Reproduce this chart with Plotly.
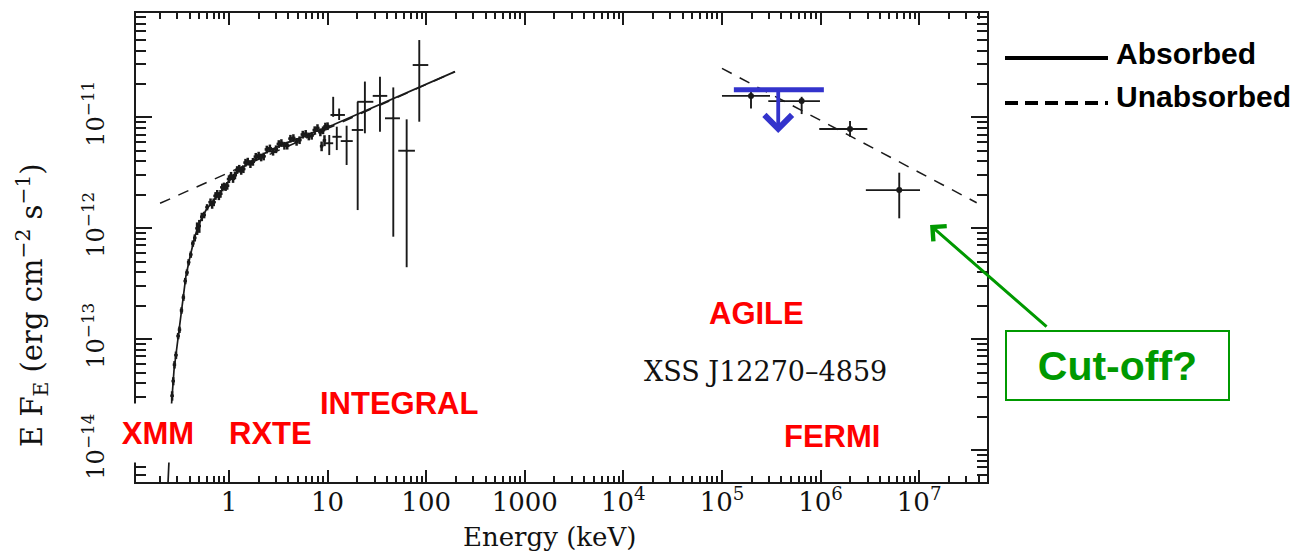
import math
import plotly.graph_objects as go

# ---------------- model curves ----------------
# absorbed power law (solid), X-ray band
model_abs_e = [0.241, 0.252, 0.262, 0.277, 0.297, 0.319, 0.341, 0.366, 0.402, 0.452,
               0.508, 0.585, 0.689, 0.811, 0.977, 1.205, 1.63, 2.43, 3.53, 5.25,
               7.80, 11.3, 196]
model_abs_f = [5.18e-15, 1.24e-14, 2.67e-14, 5.29e-14, 8.88e-14, 1.35e-13, 2.26e-13,
               3.72e-13, 5.51e-13, 8.53e-13, 1.14e-12, 1.46e-12, 1.76e-12, 2.08e-12,
               2.61e-12, 3.21e-12, 3.95e-12, 4.87e-12, 5.74e-12, 6.52e-12, 7.53e-12,
               8.53e-12, 2.58e-11]

# unabsorbed power law (dashed), X-ray band and gamma-ray band
model_unabs_x_e = [0.2, 196]
model_unabs_x_f = [1.68e-12, 2.58e-11]
model_unabs_g_e = [1.0e5, 3.83e7]
model_unabs_g_f = [2.76e-11, 1.70e-12]

# ---------------- XMM spectrum ----------------
xmm_e = [0.265, 0.272, 0.280, 0.290, 0.305, 0.315, 0.330, 0.345, 0.360, 0.375,
         0.390, 0.410, 0.430, 0.450, 0.475, 0.500, 0.530, 0.560, 0.600]
xmm_f = [3.1e-14, 4.2e-14, 5.9e-14, 7.2e-14, 1.07e-13, 1.22e-13, 1.82e-13, 2.38e-13,
         3.35e-13, 4.0e-13, 4.95e-13, 5.8e-13, 7.3e-13, 8.2e-13, 1.0e-12, 1.05e-12,
         1.27e-12, 1.32e-12, 1.55e-12]
xmm_df = [3.0e-15, 3.5e-15, 4.5e-15, 5.5e-15, 7.0e-15, 8.0e-15, 1.2e-14, 1.6e-14,
          2.2e-14, 2.6e-14, 3.2e-14, 3.8e-14, 4.8e-14, 6.0e-14, 1.3e-13, 1.4e-13,
          1.1e-13, 9e-14, 1.0e-13]

# ---------------- XMM / RXTE spectrum, 0.65-10 keV ----------------
rxte_e = [0.65, 0.675, 0.70, 0.73, 0.76, 0.79, 0.82, 0.855, 0.89, 0.925,
          0.96, 1.0, 1.05, 1.1, 1.15, 1.21, 1.27, 1.33, 1.40, 1.47,
          1.55, 1.65, 1.75, 1.87, 2.0, 2.12, 2.25, 2.42, 2.6, 2.8,
          3.0, 3.2, 3.4, 3.65, 3.9, 4.2, 4.5, 4.85, 5.2, 5.6,
          6.0, 6.45, 6.9, 7.4, 7.9, 8.45, 9.0, 9.5, 10.0]
rxte_f = [1.72e-12, 1.63e-12, 1.72e-12, 1.96e-12, 2.05e-12, 1.95e-12, 2.05e-12, 2.34e-12, 2.39e-12, 2.36e-12,
          2.42e-12, 2.78e-12, 2.98e-12, 2.79e-12, 3.01e-12, 3.36e-12, 3.45e-12, 3.30e-12, 3.42e-12, 3.91e-12,
          4.00e-12, 3.80e-12, 3.98e-12, 4.42e-12, 4.53e-12, 4.36e-12, 4.45e-12, 5.14e-12, 5.26e-12, 4.91e-12,
          5.17e-12, 5.76e-12, 5.88e-12, 5.56e-12, 5.57e-12, 6.43e-12, 6.52e-12, 6.03e-12, 6.24e-12, 7.00e-12,
          7.11e-12, 6.74e-12, 6.84e-12, 7.68e-12, 8.02e-12, 7.34e-12, 7.66e-12, 8.28e-12, 8.34e-12]
rxte_low_e = [8.7, 9.3]
rxte_low_f = [5.5e-12, 6.2e-12]
rxte_low_df = [0.55e-12, 0.7e-12]

# ---------------- INTEGRAL ----------------
integral_e = [11.4, 13.1, 10.4, 12.4, 15.6, 20.2, 23.9, 34.0, 46.4, 63.4, 85.1]
integral_e_lo = [10.7, 11.4, 9.4, 11.2, 13.6, 17.6, 20.0, 28.7, 38.2, 52.1, 73.0]
integral_e_hi = [12.8, 15.0, 11.4, 13.9, 18.0, 23.0, 29.1, 40.3, 54.2, 76.9, 105]
integral_f = [1.05e-11, 1.05e-11, 5.84e-12, 6.68e-12, 6.11e-12, 7.69e-12, 1.38e-11,
              1.56e-11, 9.80e-12, 5.00e-12, 2.96e-11]
integral_f_lo = [1.01e-11, 9.46e-12, 4.57e-12, 5.07e-12, 3.72e-12, 1.46e-12, 7.18e-12,
                 7.41e-12, 8.40e-13, 4.46e-13, 9.13e-12]
integral_f_hi = [1.53e-11, 1.20e-11, 6.93e-12, 8.23e-12, 8.40e-12, 1.38e-11, 2.10e-11,
                 2.32e-11, 1.86e-11, 9.59e-12, 4.97e-11]

# ---------------- Fermi-LAT ----------------
fermi_e = [1.97e5, 6.43e5, 1.99e6, 6.28e6]
fermi_e_lo = [1.0e5, 2.95e5, 9.7e5, 2.88e6]
fermi_e_hi = [3.07e5, 9.86e5, 2.98e6, 1.02e7]
fermi_f = [1.56e-11, 1.40e-11, 7.85e-12, 2.21e-12]
fermi_f_lo = [1.20e-11, 1.07e-11, 6.68e-12, 1.23e-12]
fermi_f_hi = [1.80e-11, 1.53e-11, 9.26e-12, 3.17e-12]

# ---------------- AGILE upper limit ----------------
agile_e = 3.72e5
agile_e_lo = 1.32e5
agile_e_hi = 1.08e6
agile_ul = 1.77e-11

# axis ticks
x_tick_vals = [1, 10, 100, 1000, 1e4, 1e5, 1e6, 1e7]
x_tick_text = ["1", "10", "100", "1000", "10<sup>4</sup>", "10<sup>5</sup>",
               "10<sup>6</sup>", "10<sup>7</sup>"]
y_tick_vals = [1e-14, 1e-13, 1e-12, 1e-11]
y_tick_text = ["10<sup>\u221214</sup>", "10<sup>\u221213</sup>",
               "10<sup>\u221212</sup>", "10<sup>\u221211</sup>"]

# ---------------- styling ----------------
INK = "#1a1a1a"
RED = "#ff0000"
BLUE = "#3333cc"
GREEN = "#009900"
SERIF = "DejaVu Serif"
SANS = "Liberation Sans"

# plot-area geometry in pixels (figure is 1302 x 552)
FIG_W, FIG_H = 1302, 552
L, T, R, B = 136, 13, 987, 482
W, H = R - L, B - T


def px(x):
    return (x - L) / W


def py(y):
    return (B - y) / H


def asym(v, lo, hi):
    return [h - c for c, h in zip(v, hi)], [c - l for c, l in zip(v, lo)]


fig = go.Figure()

# unabsorbed model (dashed) under everything
for ex, fx in ((model_unabs_x_e, model_unabs_x_f), (model_unabs_g_e, model_unabs_g_f)):
    fig.add_trace(go.Scatter(x=ex, y=fx, mode="lines", name="Unabsorbed",
                             line=dict(color=INK, width=1.5, dash="11px,9px"),
                             showlegend=False, hoverinfo="skip"))

# absorbed model (solid)
fig.add_trace(go.Scatter(x=model_abs_e, y=model_abs_f, mode="lines", name="Absorbed",
                         line=dict(color=INK, width=1.7), showlegend=False))

err_style = dict(color=INK, thickness=2.5, width=0)

fig.add_trace(go.Scatter(
    x=xmm_e, y=xmm_f, mode="markers", name="XMM",
    marker=dict(size=3, color=INK),
    error_y=dict(type="data", array=xmm_df, **err_style),
    error_x=dict(type="percent", value=4, **err_style),
    showlegend=False))

fig.add_trace(go.Scatter(
    x=rxte_e, y=rxte_f, mode="markers", name="RXTE",
    marker=dict(size=3, color=INK),
    error_y=dict(type="percent", value=8, **err_style),
    error_x=dict(type="percent", value=5, **err_style),
    showlegend=False))

fig.add_trace(go.Scatter(
    x=rxte_low_e, y=rxte_low_f, mode="markers", name="RXTE",
    marker=dict(size=3, color=INK),
    error_y=dict(type="data", array=rxte_low_df, **err_style),
    error_x=dict(type="percent", value=4, **err_style),
    showlegend=False))

ix_p, ix_m = asym(integral_e, integral_e_lo, integral_e_hi)
iy_p, iy_m = asym(integral_f, integral_f_lo, integral_f_hi)
fig.add_trace(go.Scatter(
    x=integral_e, y=integral_f, mode="markers", name="INTEGRAL",
    marker=dict(size=2, color=INK),
    error_x=dict(type="data", symmetric=False, array=ix_p, arrayminus=ix_m,
                 color=INK, thickness=1.9, width=0),
    error_y=dict(type="data", symmetric=False, array=iy_p, arrayminus=iy_m,
                 color=INK, thickness=1.9, width=0),
    showlegend=False))

fx_p, fx_m = asym(fermi_e, fermi_e_lo, fermi_e_hi)
fy_p, fy_m = asym(fermi_f, fermi_f_lo, fermi_f_hi)
fig.add_trace(go.Scatter(
    x=fermi_e, y=fermi_f, mode="markers", name="FERMI",
    marker=dict(size=6, color=INK),
    error_x=dict(type="data", symmetric=False, array=fx_p, arrayminus=fx_m,
                 color=INK, thickness=1.9, width=0),
    error_y=dict(type="data", symmetric=False, array=fy_p, arrayminus=fy_m,
                 color=INK, thickness=1.9, width=0),
    showlegend=False))

# AGILE upper limit bar
fig.add_trace(go.Scatter(x=[agile_e_lo, agile_e_hi], y=[agile_ul, agile_ul],
                         mode="lines", name="AGILE",
                         line=dict(color=BLUE, width=5), showlegend=False))

annotations = []

# AGILE upper-limit arrow (length in decades is purely decorative)
ARROW_DEC = 0.39
annotations.append(dict(
    x=math.log10(agile_e), y=math.log10(agile_ul) - ARROW_DEC,
    ax=math.log10(agile_e), ay=math.log10(agile_ul),
    xref="x", yref="y", axref="x", ayref="y", text="",
    showarrow=True, arrowhead=4, arrowsize=1.4, arrowwidth=3.8, arrowcolor=BLUE))


# text labels
def label(text, x, y, size=31, color=RED, family=SANS, bold=True, **kw):
    d = dict(text=f"<b>{text}</b>" if bold else text, x=px(x), y=py(y),
             xref="paper", yref="paper", showarrow=False,
             xanchor="center", yanchor="middle",
             font=dict(family=family, size=size, color=color))
    d.update(kw)
    annotations.append(d)


label("XMM", 158, 433, bgcolor="white", borderpad=0, width=104, height=58)
label("RXTE", 270, 433)
label("INTEGRAL", 399, 403)
label("AGILE", 756, 313)
label("FERMI", 832, 436)
label("XSS J12270\u20134859", 765, 371, size=27, color="#111", family=SERIF, bold=False)

# axis titles
label("Energy (keV)", 549, 537, size=26, color="#111", family=SERIF, bold=False)
label("E F<sub>E</sub> (erg cm<sup>\u22122</sup> s<sup>\u22121</sup>)", 32, 305,
      size=29, color="#111", family=SERIF, bold=False, textangle=-90)

# legend
label("Absorbed", 1114, 53, size=30, color="black", xanchor="left")
label("Unabsorbed", 1114, 96, size=30, color="black", xanchor="left")
shapes = [
    dict(type="line", xref="paper", yref="paper", x0=px(1005), x1=px(1108),
         y0=py(58), y1=py(58), line=dict(color="black", width=4)),
    dict(type="line", xref="paper", yref="paper", x0=px(1005), x1=px(1108),
         y0=py(103), y1=py(103), line=dict(color="black", width=4, dash="13px,7px")),
]

# cut-off call-out
label("Cut-off?", 1117, 365, size=41, color=GREEN,
      bordercolor=GREEN, borderwidth=2, borderpad=0, width=221, height=67)
annotations.append(dict(
    x=math.log10(1.29e7), y=math.log10(1.07e-12), xref="x", yref="y",
    ax=118, ay=103, text="", showarrow=True, arrowhead=4, arrowsize=1.3,
    arrowwidth=3, arrowcolor=GREEN))

minor_x = [k * 10.0 ** n for n in range(-1, 8) for k in range(2, 10)]
minor_y = [k * 10.0 ** n for n in range(-15, -10) for k in range(2, 10)]

axis_common = dict(type="log", showgrid=False, zeroline=False, showline=True,
                   linecolor=INK, linewidth=2, mirror="ticks", ticks="inside",
                   tickcolor=INK, tickwidth=1.5)

fig.update_layout(
    width=FIG_W, height=FIG_H,
    margin=dict(l=L, r=FIG_W - R, t=T, b=FIG_H - B),
    paper_bgcolor="white", plot_bgcolor="white",
    showlegend=False,
    xaxis=dict(range=[-0.943, 7.688], tickvals=x_tick_vals, ticktext=x_tick_text,
               ticklen=12, ticklabelstandoff=-4,
               tickfont=dict(family=SERIF, size=26, color="#111"),
               minor=dict(tickvals=minor_x, ticks="inside", ticklen=6,
                          tickwidth=1.5, tickcolor=INK, showgrid=False),
               **axis_common),
    yaxis=dict(range=[-14.286, -10.060], tickvals=y_tick_vals, ticktext=y_tick_text,
               ticklen=16, tickangle=-90, ticklabelstandoff=20,
               tickfont=dict(family=SERIF, size=24, color="#111"),
               minor=dict(tickvals=minor_y, ticks="inside", ticklen=10,
                          tickwidth=1.5, tickcolor=INK, showgrid=False),
               **axis_common),
    annotations=annotations,
    shapes=shapes,
)

fig.write_html("out.html")
